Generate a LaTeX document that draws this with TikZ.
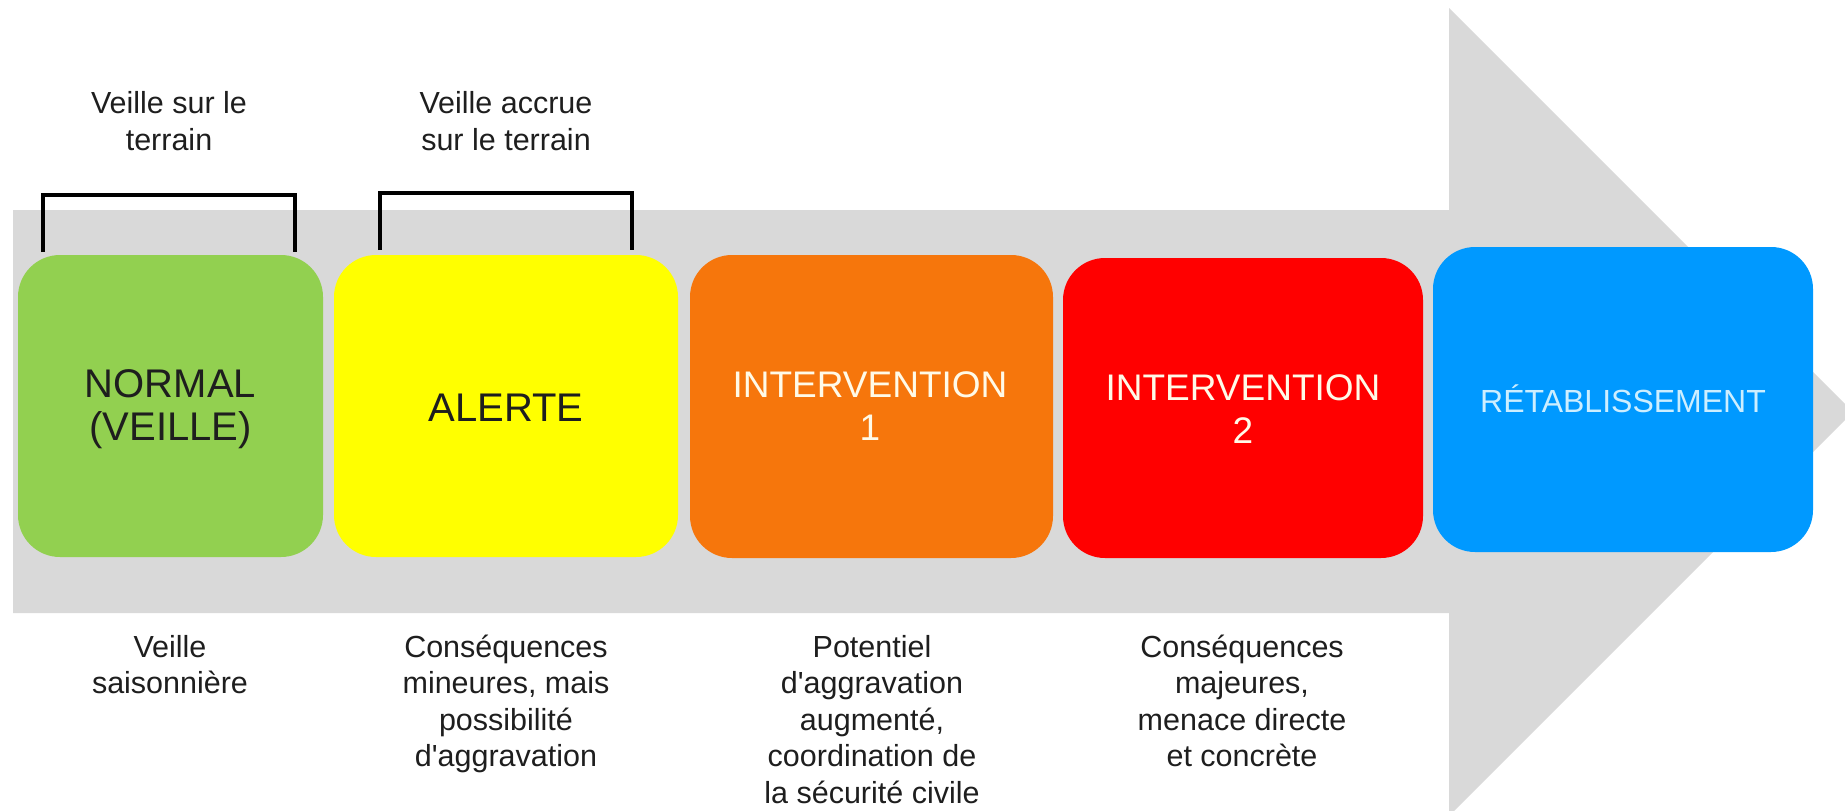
\documentclass[tikz,border=0pt]{standalone}
\usepackage{fontspec}
\setmainfont{Liberation Sans}
\definecolor{arrowgray}{RGB}{217,217,217}
\definecolor{boxgreen}{RGB}{146,208,80}
\definecolor{boxyellow}{RGB}{255,255,0}
\definecolor{boxorange}{RGB}{246,118,12}
\definecolor{boxred}{RGB}{255,0,0}
\definecolor{boxblue}{RGB}{0,153,255}
\definecolor{txtdark}{RGB}{30,30,30}
\definecolor{txtcream}{RGB}{255,250,232}
\definecolor{txtpale}{RGB}{205,238,255}
\newcommand{\mlines}[1]{\begin{tabular}[t]{@{}c@{}}#1\end{tabular}}
\begin{document}
\begin{tikzpicture}[x=1pt,y=-1pt,
  phasebox/.style={rectangle, rounded corners=42pt, inner sep=0pt, draw=none},
  notetext/.style={anchor=base, inner sep=0pt, text=txtdark, font=\fontsize{30.5pt}{36.5pt}\selectfont},
  phasetitle/.style={anchor=base, inner sep=0pt, font=\fontsize{40pt}{43pt}\selectfont},
  brk/.style={line width=3.5pt, draw=black}
]
\useasboundingbox (0,0) rectangle (1845,811);
\clip (0,0) rectangle (1845,811);
% big arrow
\fill[arrowgray] (13,210) -- (1449,210) -- (1449,8) -- (1853,412) -- (1449,816) -- (1449,613) -- (13,613) -- cycle;

% phase boxes
\node[phasebox, fill=boxgreen,  minimum width=305pt, minimum height=302pt] (normal) at (170.5,406) {};
\node[phasebox, fill=boxyellow, minimum width=344pt, minimum height=302pt] (alerte) at (506,406) {};
\node[phasebox, fill=boxorange, minimum width=363pt, minimum height=303pt] (int1) at (871.5,406.5) {};
\node[phasebox, fill=boxred,    minimum width=360pt, minimum height=300pt] (int2) at (1243,408) {};
\node[phasebox, fill=boxblue,   minimum width=380pt, minimum height=305pt] (retab) at (1623,399.5) {};

% titles
\node[phasetitle, text=txtdark] (normalT) at (170.5,397) {\mlines{NORMAL\\(VEILLE)}};
\node[phasetitle, text=txtdark] (alerteT) at (506,421) {ALERTE};
\node[phasetitle, text=txtcream, font=\fontsize{37pt}{43pt}\selectfont] (int1T) at (870,397) {\mlines{INTERVENTION\\1}};
\node[phasetitle, text=txtcream, font=\fontsize{37pt}{43pt}\selectfont] (int2T) at (1243,400) {\mlines{INTERVENTION\\2}};
\node[phasetitle, text=txtpale, font=\fontsize{32pt}{36pt}\selectfont] (retabT) at (1623,412) {RÉTABLISSEMENT};

% top notes and brackets
\node[notetext, font=\fontsize{30.5pt}{37pt}\selectfont] (top1) at (169,113) {\mlines{Veille sur le\\terrain}};
\node[notetext, font=\fontsize{30.5pt}{37pt}\selectfont] (top2) at (506,113) {\mlines{Veille accrue\\sur le terrain}};
\coordinate (b1a) at (43,252);
\coordinate (b1t) at (169,195);
\coordinate (b1b) at (295,252);
\coordinate (b2a) at (380,250);
\coordinate (b2t) at (506,193);
\coordinate (b2b) at (632,250);
\draw[brk] (b1a) |- (b1t) -| (b1b);
\draw[brk] (b2a) |- (b2t) -| (b2b);

% bottom notes
\node[notetext] (n1) at (170,657) {\mlines{Veille\\saisonnière}};
\node[notetext] (n2) at (506,657) {\mlines{Conséquences\\mineures, mais\\possibilité\\d\textquotesingle aggravation}};
\node[notetext] (n3) at (872,657) {\mlines{Potentiel\\d\textquotesingle aggravation\\augmenté,\\coordination de\\la sécurité civile}};
\node[notetext] (n4) at (1242,657) {\mlines{Conséquences\\majeures,\\menace directe\\et concrète}};
\end{tikzpicture}
\end{document}
